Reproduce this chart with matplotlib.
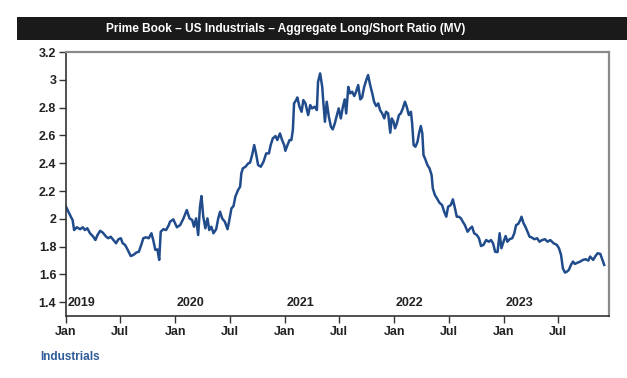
import numpy as np
import pandas as pd
import matplotlib
matplotlib.use("Agg")
import matplotlib.pyplot as plt
import matplotlib.dates as mdates
from matplotlib.patches import Rectangle

# days since 2019-01-01 and the ratio
days = [0, 8, 16, 22, 27, 36, 47, 56, 63, 71, 80, 91, 98, 105, 114, 123, 134, 141, 149, 158,
        167, 175, 183, 189, 197, 206, 216, 225, 234, 243, 251, 258, 267, 276, 285, 291, 298, 305, 311, 316,
        325, 334, 343, 347, 358, 370, 381, 392, 403, 412, 421, 427, 434, 441, 447, 452, 458, 465, 472, 478,
        485, 492, 501, 508, 514, 521, 530, 539, 545, 552, 559, 565, 574, 581, 585, 590, 599, 608, 614, 621,
        628, 634, 641, 650, 659, 668, 677, 683, 690, 699, 705, 714, 721, 728, 732, 739, 746, 752, 757, 761,
        768, 772, 779, 786, 792, 799, 808, 815, 821, 830, 837, 841, 848, 855, 859, 864, 870, 877, 884, 890,
        897, 904, 910, 917, 924, 930, 935, 942, 948, 955, 962, 968, 975, 982, 988, 995, 1002, 1008, 1015, 1022,
        1028, 1035, 1042, 1048, 1055, 1062, 1068, 1075, 1082, 1087, 1093, 1098, 1104, 1111, 1117, 1124, 1131, 1137, 1144, 1151,
        1155, 1160, 1166, 1173, 1178, 1184, 1189, 1193, 1200, 1206, 1213, 1220, 1224, 1231, 1238, 1246, 1255, 1262, 1269, 1275,
        1284, 1291, 1298, 1304, 1311, 1318, 1324, 1331, 1340, 1349, 1355, 1362, 1371, 1378, 1385, 1393, 1402, 1411, 1418, 1425,
        1432, 1440, 1447, 1453, 1460, 1467, 1473, 1480, 1489, 1496, 1502, 1509, 1516, 1520, 1527, 1533, 1540, 1547, 1553, 1563,
        1572, 1580, 1589, 1598, 1607, 1616, 1627, 1638, 1645, 1652, 1658, 1665, 1672, 1678, 1685, 1692, 1698, 1707, 1716, 1725,
        1734, 1743, 1749, 1759, 1767, 1774, 1783, 1790, 1796]
ratio = [2.087, 2.051, 2.015, 1.991, 1.919, 1.939, 1.925, 1.939, 1.919, 1.932, 1.896, 1.871, 1.847, 1.883, 1.914, 1.900, 1.871, 1.860, 1.871, 1.847,
         1.824, 1.853, 1.860, 1.824, 1.812, 1.776, 1.732, 1.740, 1.756, 1.763, 1.812, 1.860, 1.867, 1.860, 1.896, 1.847, 1.776, 1.780, 1.704, 1.907,
         1.925, 1.919, 1.955, 1.979, 1.996, 1.939, 1.955, 2.003, 2.063, 2.003, 1.991, 1.943, 2.003, 1.883, 2.087, 2.164, 2.015, 1.932, 2.003, 1.919,
         1.943, 1.896, 1.925, 2.003, 2.051, 2.003, 1.979, 1.925, 1.991, 2.075, 2.092, 2.159, 2.207, 2.231, 2.327, 2.363, 2.375, 2.399, 2.404, 2.459,
         2.531, 2.471, 2.387, 2.375, 2.411, 2.471, 2.471, 2.531, 2.579, 2.596, 2.567, 2.615, 2.567, 2.531, 2.490, 2.531, 2.567, 2.567, 2.639, 2.831,
         2.855, 2.874, 2.807, 2.771, 2.855, 2.831, 2.747, 2.819, 2.795, 2.807, 2.783, 2.986, 3.047, 2.950, 2.831, 2.699, 2.843, 2.735, 2.663, 2.644,
         2.687, 2.747, 2.795, 2.723, 2.807, 2.860, 2.759, 2.950, 2.903, 2.915, 2.884, 2.915, 2.963, 2.860, 2.874, 2.950, 2.999, 3.035, 2.963, 2.903,
         2.843, 2.812, 2.831, 2.783, 2.759, 2.723, 2.771, 2.759, 2.620, 2.723, 2.699, 2.651, 2.687, 2.747, 2.759, 2.795, 2.843, 2.807, 2.747, 2.771,
         2.687, 2.531, 2.519, 2.555, 2.615, 2.668, 2.615, 2.459, 2.423, 2.387, 2.363, 2.315, 2.219, 2.171, 2.147, 2.116, 2.099, 2.051, 2.015, 2.087,
         2.099, 2.140, 2.075, 2.015, 2.015, 2.003, 1.979, 1.955, 1.907, 1.932, 1.943, 1.896, 1.883, 1.860, 1.804, 1.812, 1.847, 1.835, 1.847, 1.824,
         1.763, 1.760, 1.896, 1.788, 1.835, 1.876, 1.835, 1.853, 1.860, 1.896, 1.955, 1.963, 1.991, 2.015, 1.967, 1.943, 1.907, 1.871, 1.867, 1.853,
         1.860, 1.835, 1.847, 1.853, 1.835, 1.847, 1.824, 1.812, 1.788, 1.740, 1.644, 1.613, 1.620, 1.632, 1.668, 1.692, 1.675, 1.684, 1.692, 1.704,
         1.709, 1.699, 1.728, 1.704, 1.732, 1.752, 1.747, 1.704, 1.668]

years = [2019, 2020, 2021, 2022, 2023]
yticks = [1.4, 1.6, 1.8, 2.0, 2.2, 2.4, 2.6, 2.8, 3.0, 3.2]
title = "Prime Book \u2013 US Industrials \u2013 Aggregate Long/Short Ratio (MV)"
series_name = "Industrials"

dates = pd.Timestamp("2019-01-01") + pd.to_timedelta(days, unit="D")

plt.rcParams['font.family'] = ['Liberation Sans', 'DejaVu Sans']
fig = plt.figure(figsize=(6.27, 3.78), dpi=100)
ax = fig.add_axes([0.1053, 0.164, 0.866, 0.698])

ax.plot(dates, ratio, color='#214c8c', linewidth=1.8)

ax.set_ylim(1.3, 3.2)
ax.set_xlim(pd.Timestamp("2019-01-01"), pd.Timestamp("2023-12-18"))
ax.set_yticks(yticks)
ax.set_yticklabels(['%g' % v for v in yticks])
ax.xaxis.set_major_locator(mdates.MonthLocator(bymonth=[1, 7]))
ax.xaxis.set_major_formatter(mdates.DateFormatter('%b'))

ax.tick_params(axis='both', direction='out', length=5, width=1, color='#333333',
               labelsize=9, labelcolor='#222222', pad=2)
for lab in ax.get_xticklabels() + ax.get_yticklabels():
    lab.set_fontweight('bold')

for s in ['left', 'bottom']:
    ax.spines[s].set_color('#333333')
    ax.spines[s].set_linewidth(1.2)
for s in ['top', 'right']:
    ax.spines[s].set_color('#8a8a8a')
    ax.spines[s].set_linewidth(1.6)

trans = ax.get_xaxis_transform()
for yr in years:
    ax.text(pd.Timestamp(yr, 1, 1) + pd.Timedelta(days=5), 0.025, str(yr), transform=trans,
            fontsize=9, fontweight='bold', color='#222222', ha='left', va='bottom')

# black title bar
fig.patches.append(Rectangle((0.027, 0.894), 0.973, 0.061, transform=fig.transFigure,
                             facecolor='#1a1a1a', edgecolor='none'))
fig.text(0.455, 0.922, title, ha='center', va='center', color='white', fontsize=8.6,
         fontweight='bold')

fig.text(0.064, 0.055, series_name, ha='left', va='center', color='#2e5c9a',
         fontsize=8.5, fontweight='bold')

fig.savefig('out.png', dpi=100)
